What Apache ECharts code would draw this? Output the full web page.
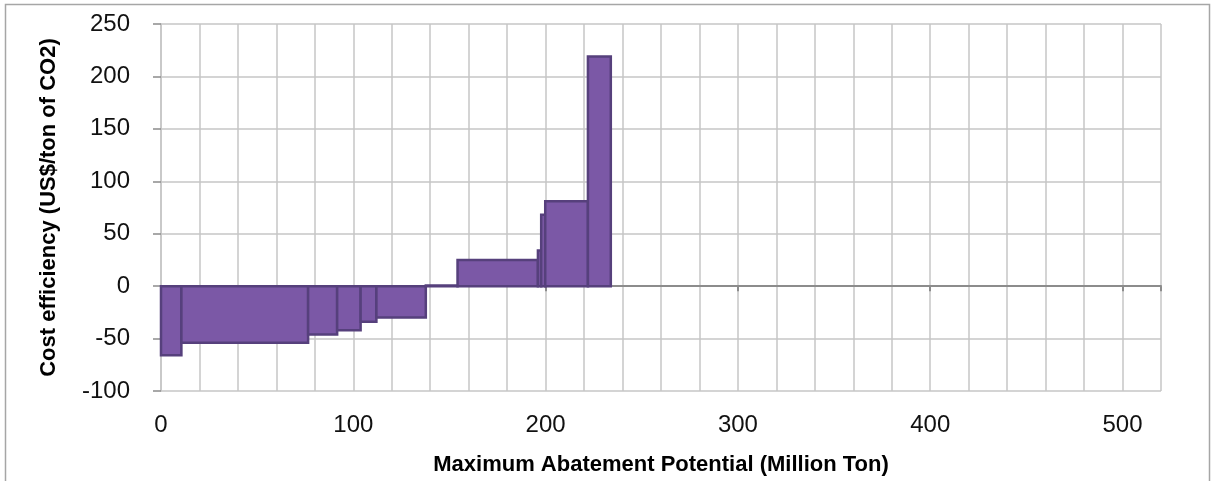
<!DOCTYPE html>
<html>
	<head>
		<meta charset="UTF-8">
		<title>Abatement cost curve</title>
		<script src="https://cdn.jsdelivr.net/npm/echarts@6/dist/echarts.min.js"></script>
	</head>
	<style>
		html, body{
			margin: 0;
			padding: 0;
			background: #fff;
		}
		#main{
			width: 1212px;
			height: 481px;
		}
	</style>
	<body>
		<div id="main"></div>
		<script>
	// abatement potential of each measure (Million Ton), in order along the curve
	var potential = [10.6, 65.9, 15.1, 12.2, 8.2, 25.7, 16.5, 41.8, 1.7, 2.1, 22.2, 11.9];
	// cost efficiency of each measure (US$/ton of CO2)
	var cost = [-66, -54, -46, -42, -34, -30, 0.5, 25, 34, 68, 81, 219];
	var yTicks = [-100, -50, 0, 50, 100, 150, 200, 250];
	var xMax = 520;

	var myChart = echarts.init(document.getElementById('main'));

	// each bar runs from the summed potential before it to the summed potential after it
	var bars = [];
	var acc = 0;
	potential.forEach(function(w, i){
		bars.push([acc, acc + w, cost[i]]);
		acc += w;
	});

	var fontFam = '"Liberation Sans", Arial, sans-serif';

	var option = {
		animation: false,
		graphic: [{
			type: 'rect',
			shape: {x: 5.5, y: 4.5, width: 1204, height: 490},
			style: {fill: 'none', stroke: '#a6a6a6', lineWidth: 1.5},
			silent: true
		}],
		grid: {left: 161, right: 51, top: 24, bottom: 89},
		xAxis: [{
			type: 'value',
			min: 0,
			max: xMax,
			interval: 20,
			name: 'Maximum Abatement Potential (Million Ton)',
			nameLocation: 'middle',
			nameGap: 63,
			nameTextStyle: {fontFamily: fontFam, fontWeight: 'bold', fontSize: 22, color: '#000'},
			axisLine: {show: false, onZero: false},
			axisTick: {show: false},
			axisLabel: {
				fontFamily: fontFam,
				fontSize: 24,
				color: '#111',
				margin: 22,
				formatter: function(v){
					return v % 100 === 0 ? String(v) : '';
				}
			},
			splitLine: {show: true, lineStyle: {color: '#c6c6c6', width: 1.5}}
		}, {
			// zero line with its downward ticks
			type: 'value',
			position: 'top',
			min: 0,
			max: xMax,
			interval: 100,
			axisLine: {show: true, onZero: true, lineStyle: {color: '#8c8c8c', width: 2}},
			axisTick: {show: true, inside: true, length: 5, lineStyle: {color: '#8c8c8c', width: 2}},
			axisLabel: {show: false},
			splitLine: {show: false}
		}],
		yAxis: {
			type: 'value',
			min: yTicks[0],
			max: yTicks[yTicks.length - 1],
			interval: 50,
			name: 'Cost efficiency (US$/ton of CO2)',
			nameLocation: 'middle',
			nameGap: 101,
			nameTextStyle: {fontFamily: fontFam, fontWeight: 'bold', fontSize: 22, color: '#000'},
			axisLine: {show: true, lineStyle: {color: '#c6c6c6', width: 1.5}},
			axisTick: {show: true, length: 8, lineStyle: {color: '#8c8c8c', width: 1.5}},
			axisLabel: {fontFamily: fontFam, fontSize: 24, color: '#111', margin: 31},
			splitLine: {show: true, lineStyle: {color: '#c6c6c6', width: 1.5}}
		},
		series: [{
			type: 'custom',
			xAxisIndex: 0,
			yAxisIndex: 0,
			encode: {x: [0, 1], y: 2},
			data: bars,
			renderItem: function(params, api){
				var p0 = api.coord([api.value(0), 0]);
				var p1 = api.coord([api.value(1), api.value(2)]);
				return {
					type: 'rect',
					shape: {
						x: p0[0],
						y: Math.min(p0[1], p1[1]),
						width: p1[0] - p0[0],
						height: Math.abs(p1[1] - p0[1])
					},
					style: {fill: '#7b58a6', stroke: '#56407c', lineWidth: 2.5}
				};
			}
		}]
	};
	myChart.setOption(option);
		</script>
	</body>
</html>
